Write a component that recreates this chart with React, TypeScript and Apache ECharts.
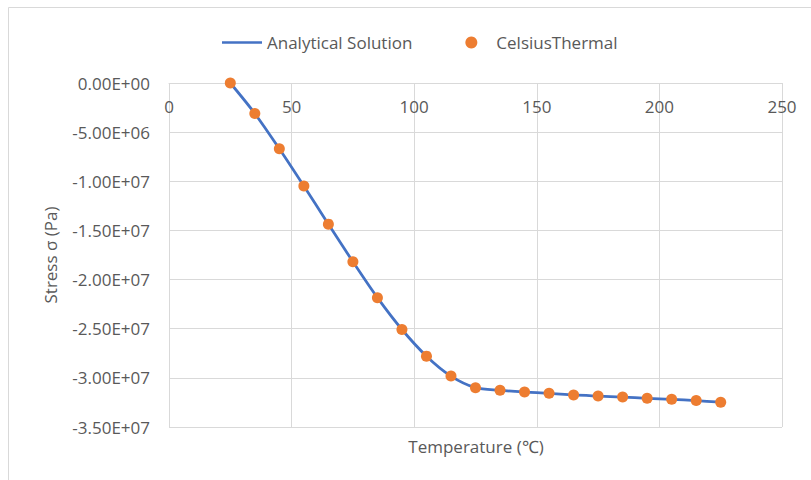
import React, { useEffect, useRef } from "react";
import * as echarts from "echarts";

const temperatures = [25, 35, 45, 55, 65, 75, 85, 95, 105, 115, 125, 135, 145, 155, 165, 175, 185, 195, 205, 215, 225];
const analyticalStress = [0, -3.1e6, -6.69e6, -10.48e6, -14.36e6, -18.18e6, -21.84e6, -25.08e6, -27.79e6, -29.82e6, -31.0e6, -31.27e6, -31.44e6, -31.57e6, -31.74e6, -31.85e6, -31.95e6, -32.08e6, -32.18e6, -32.31e6, -32.48e6];
const celsiusStress = [0, -3.1e6, -6.69e6, -10.48e6, -14.36e6, -18.18e6, -21.84e6, -25.08e6, -27.79e6, -29.82e6, -31.0e6, -31.27e6, -31.44e6, -31.57e6, -31.74e6, -31.85e6, -31.95e6, -32.08e6, -32.18e6, -32.31e6, -32.48e6];

const FONT = "Open Sans";
const TEXT = "#595959";
const FS = 17;

function sci(v: number): string {
  if (v === 0) return "0.00E+00";
  const s = Math.abs(v).toExponential(2);
  const [m, e] = s.split("e");
  const sign = e[0] === "-" ? "-" : "+";
  const digits = e.replace(/[+-]/, "").padStart(2, "0");
  return (v < 0 ? "-" : "") + m + "E" + sign + digits;
}

export default function App() {
  const ref = useRef<HTMLDivElement>(null);
  useEffect(() => {
    if (!ref.current) return;
    const chart = echarts.init(ref.current, null, { renderer: "svg" });
    chart.setOption({
      animation: false,
      backgroundColor: "#ffffff",
      textStyle: { fontFamily: FONT },
      legend: {
        top: 29,
        left: 217,
        itemGap: 53,
        itemWidth: 40,
        itemHeight: 12,
        textStyle: { color: TEXT, fontSize: FS, fontFamily: FONT },
        data: [
          { name: "Analytical Solution", icon: "path://M0,5 L40,5 L40,7.6 L0,7.6 Z" },
          { name: "CelsiusThermal", icon: "circle" },
        ],
      },
      grid: { left: 169, right: 29, top: 83, bottom: 53, containLabel: false },
      xAxis: {
        type: "value",
        position: "top",
        min: 0,
        max: 250,
        interval: 50,
        axisLine: { show: true, onZero: false, lineStyle: { color: "#d9d9d9" } },
        axisTick: { show: false },
        axisLabel: { color: TEXT, fontSize: FS, fontFamily: FONT, margin: 15, inside: true },
        splitLine: { show: true, lineStyle: { color: "#d9d9d9", width: 1 } },
      },
      yAxis: {
        type: "value",
        min: -3.5e7,
        max: 0,
        interval: 5e6,
        name: "Stress σ (Pa)",
        nameLocation: "middle",
        nameGap: 110,
        nameTextStyle: { color: TEXT, fontSize: FS, fontFamily: FONT },
        axisLine: { show: false },
        axisTick: { show: false },
        axisLabel: { color: TEXT, fontSize: FS, fontFamily: FONT, margin: 19, formatter: (v: number) => sci(v) },
        splitLine: { show: true, lineStyle: { color: "#d9d9d9", width: 1 } },
      },
      graphic: [
        {
          type: "rect",
          shape: { x: 8.5, y: 7.5, width: 820, height: 500 },
          style: { fill: "none", stroke: "#d9d9d9", lineWidth: 1 },
          silent: true,
        },
        {
          type: "text",
          x: 476,
          y: 446,
          style: {
            text: "Temperature (℃)",
            fill: TEXT,
            fontSize: FS,
            fontFamily: FONT,
            align: "center",
            verticalAlign: "middle",
          },
        },
      ],
      series: [
        {
          name: "Analytical Solution",
          type: "line",
          data: temperatures.map((t, i) => [t, analyticalStress[i]]),
          smooth: 0.3,
          showSymbol: false,
          symbol: "none",
          lineStyle: { color: "#4472C4", width: 2.75 },
          itemStyle: { color: "#4472C4" },
          z: 2,
        },
        {
          name: "CelsiusThermal",
          type: "scatter",
          data: temperatures.map((t, i) => [t, celsiusStress[i]]),
          symbol: "circle",
          symbolSize: 11,
          itemStyle: { color: "#ED7D31", opacity: 1 },
          z: 3,
        },
      ],
    });
    return () => chart.dispose();
  }, []);
  return (
    <div
      ref={ref}
      style={{ position: "absolute", left: 0, top: 0, width: 811, height: 480 }}
    />
  );
}
